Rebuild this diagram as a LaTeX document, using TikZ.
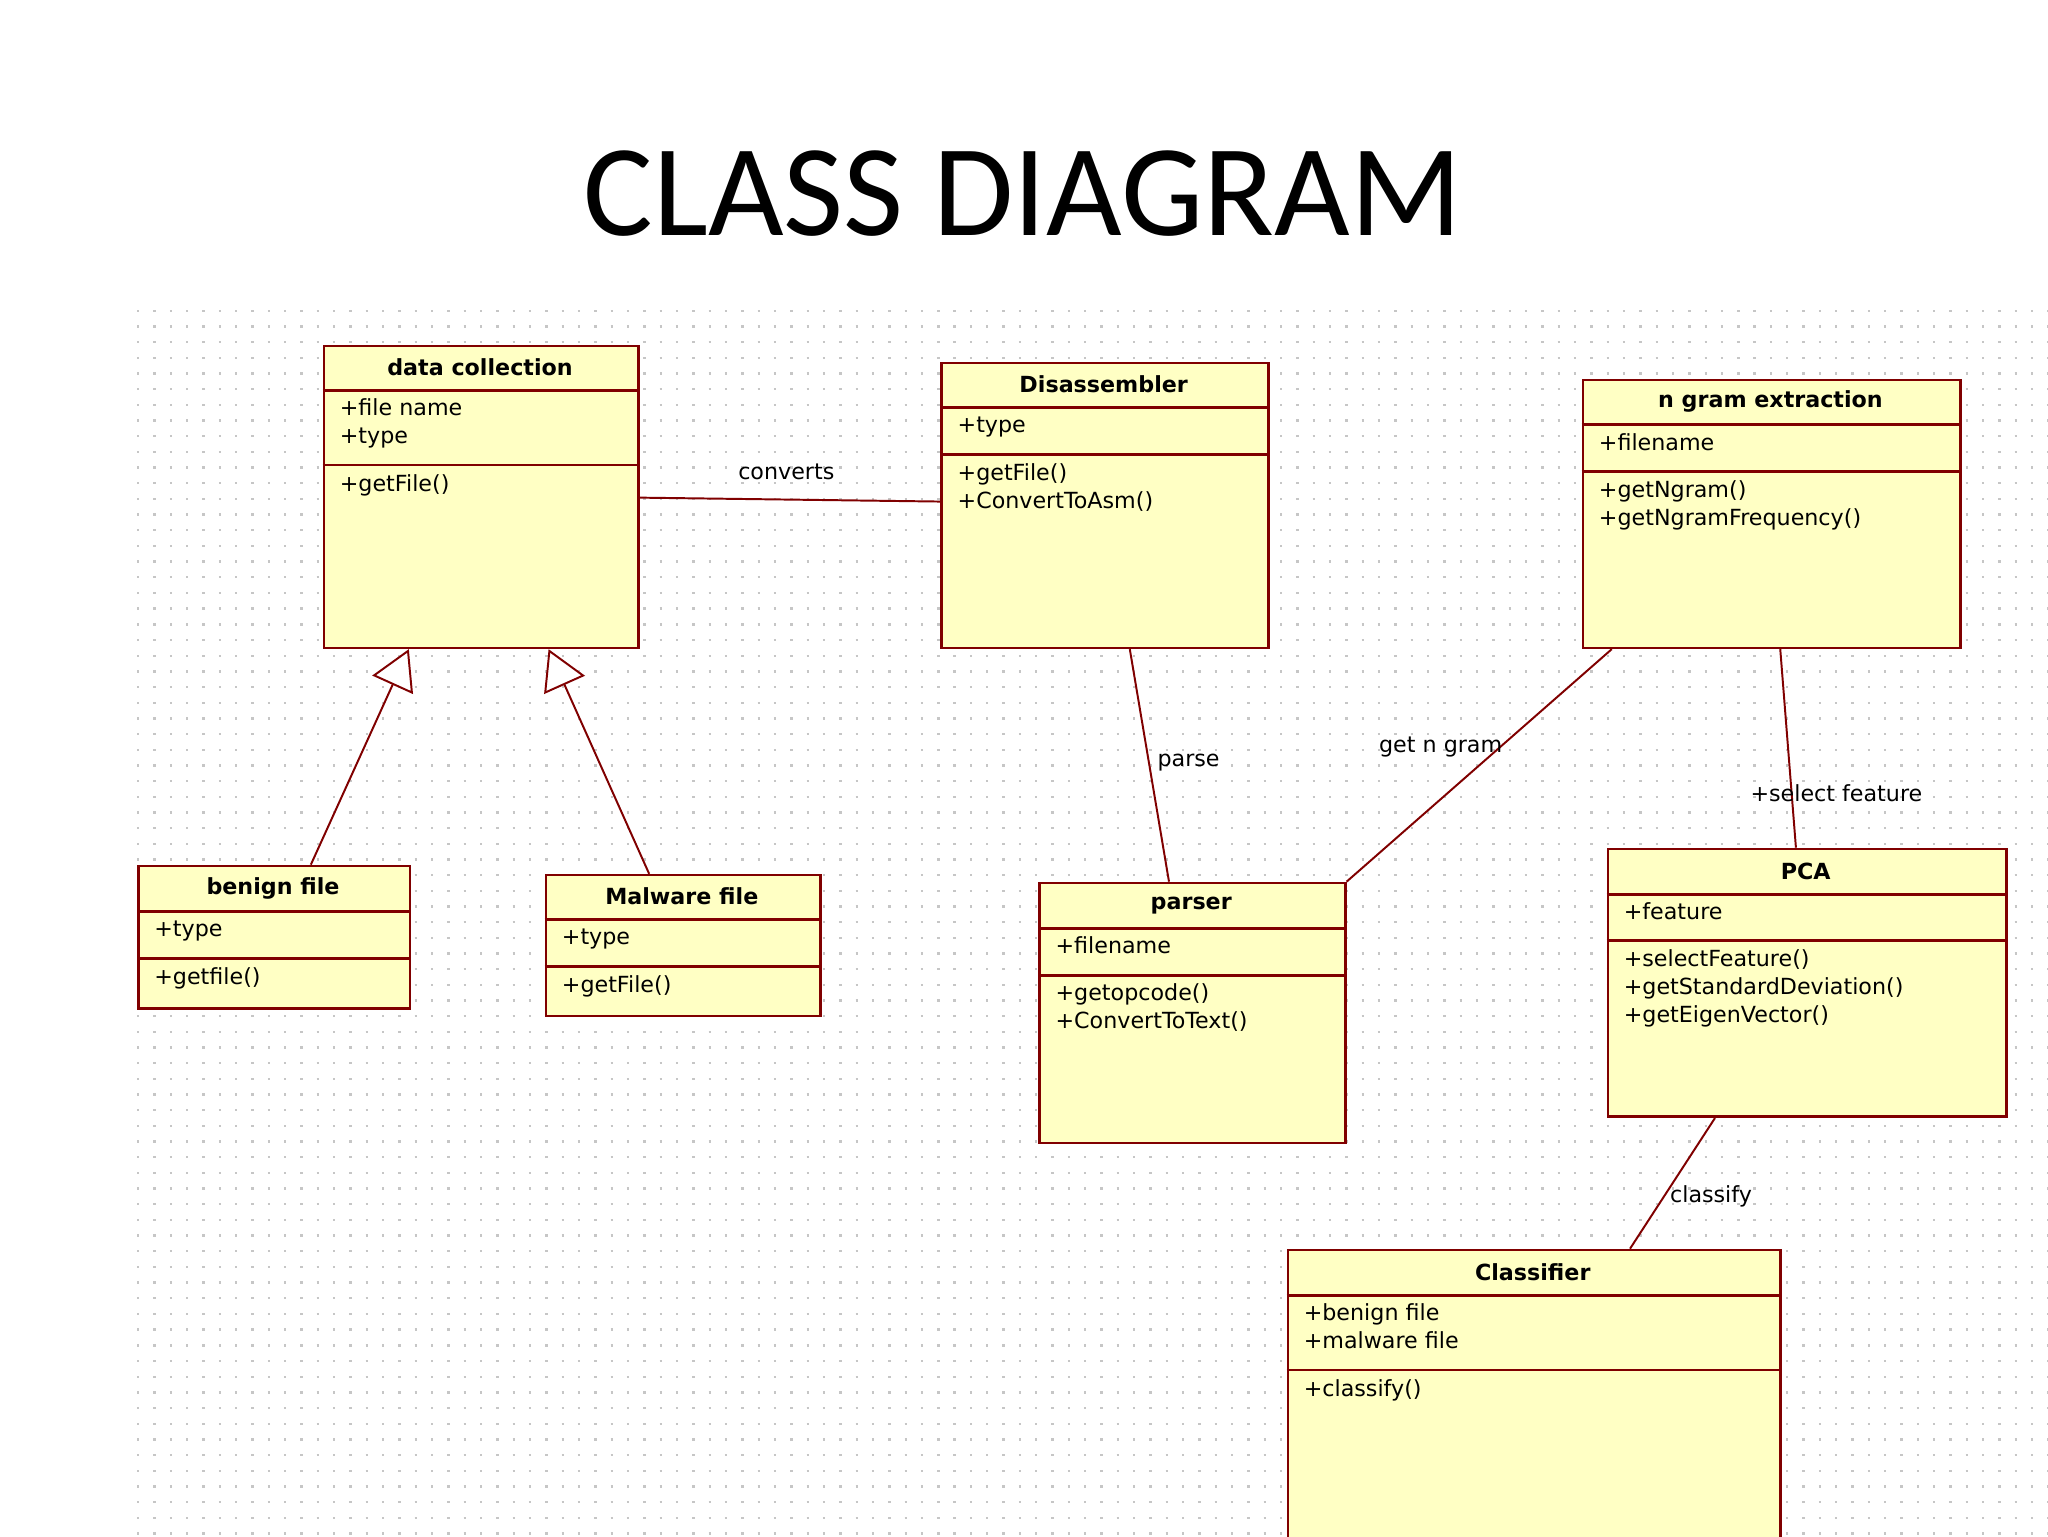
\documentclass[tikz,border=0pt]{standalone}
\usepackage{fontspec}
\setmainfont{DejaVu Sans}
\newfontfamily\titlefont{Carlito}
\usetikzlibrary{arrows.meta}
\definecolor{umlred}{HTML}{800000}
\definecolor{umlfill}{HTML}{FFFFC4}
\tikzset{
 cls/.style={draw=umlred,fill=umlfill,line width=2pt,anchor=north west,inner sep=0pt},
 div/.style={draw=umlred,line width=2pt},
 ttl/.style={font=\fontsize{17}{20}\selectfont\bfseries,anchor=center},
 mem/.style={font=\fontsize{17}{21.5}\selectfont,anchor=north west,align=left,inner sep=0pt},
 con/.style={draw=umlred,line width=1.5pt},
 gen/.style={draw=umlred,line width=1.5pt,-{Triangle[open,length=30pt,width=34pt,fill=white]}},
 lbl/.style={font=\fontsize{17}{20}\selectfont,inner sep=0pt},
 gridrow/.style={draw=gray!45,line width=1.8pt,dash pattern=on 1.8pt off 10.7pt}
}
\newcommand{\umlclass}[8]{% name,x1,y1,x2,y2,d1,d2,title
 \node[cls,minimum width=#4-#2,minimum height=#5-#3] (#1) at (#2,#3) {};
 \draw[div] (#2,#6) -- (#4,#6);
 \draw[div] (#2,#7) -- (#4,#7);
 \node[ttl] at ({(#2+#4)/2},{(#3+#6)/2}) {#8};
}
\begin{document}
\begin{tikzpicture}[x=1pt,y=-1pt]
\useasboundingbox[fill=white] (0,0) rectangle (1568,1176);
\foreach \j in {0,...,78}{
 \draw[gridrow] (105,{238+12*\j}) -- (1568,{238+12*\j});}
\node[font=\titlefont\fontsize{100}{110}\selectfont] (title) at (783,148) {CLASS DIAGRAM};

\umlclass{dc}{247}{264}{488}{495}{299}{356}{data collection}
\node[mem] at (260,305) {+file name\\+type};
\node[mem] at (260,363) {+getFile()};

\umlclass{dis}{720}{277}{970}{495}{312}{348}{Disassembler}
\node[mem] at (733,319) {+type};
\node[mem] at (733,355) {+getFile()\\+ConvertToAsm()};

\umlclass{ng}{1211}{290}{1500}{495}{325}{361}{n gram extraction}
\node[mem] at (1224,332) {+filename};
\node[mem] at (1224,368) {+getNgram()\\+getNgramFrequency()};

\umlclass{ben}{105}{662}{313}{771}{698}{734}{benign file}
\node[mem] at (118,705) {+type};
\node[mem] at (118,741) {+getfile()};

\umlclass{mal}{417}{669}{627}{777}{704}{740}{Malware file}
\node[mem] at (430,711) {+type};
\node[mem] at (430,747) {+getFile()};

\umlclass{par}{795}{675}{1029}{874}{711}{747}{parser}
\node[mem] at (808,717) {+filename};
\node[mem] at (808,753) {+getopcode()\\+ConvertToText()};

\umlclass{pca}{1230}{649}{1535}{854}{685}{720}{PCA}
\node[mem] at (1243,691) {+feature};
\node[mem] at (1243,727) {+selectFeature()\\+getStandardDeviation()\\+getEigenVector()};

\umlclass{clf}{985}{956}{1362}{1180}{992}{1049}{Classifier}
\node[mem] at (998,998) {+benign file\\+malware file};
\node[mem] at (998,1056) {+classify()};

\draw[con] ([yshift=-117pt]dc.north east) -- ([yshift=-107pt]dis.north west);
\node[lbl] at (602,361) {converts};
\draw[gen] ([xshift=-77pt]ben.north east) -- ([xshift=66pt]dc.south west);
\draw[gen] ([xshift=80pt]mal.north west) -- ([xshift=173pt]dc.south west);
\draw[con] ([xshift=145pt]dis.south west) -- ([xshift=100pt]par.north west);
\node[lbl] at (910,584) {parse};
\draw[con] ([xshift=23pt]ng.south west) -- (par.north east);
\node[lbl] at (1103,572) {get n gram};
\draw[con] ([xshift=152pt]ng.south west) -- ([xshift=145pt]pca.north west);
\node[lbl] at (1406,607) {+select feature};
\draw[con] ([xshift=83pt]pca.south west) -- ([xshift=263pt]clf.north west);
\node[lbl] at (1310,916) {classify};
\end{tikzpicture}
\end{document}
